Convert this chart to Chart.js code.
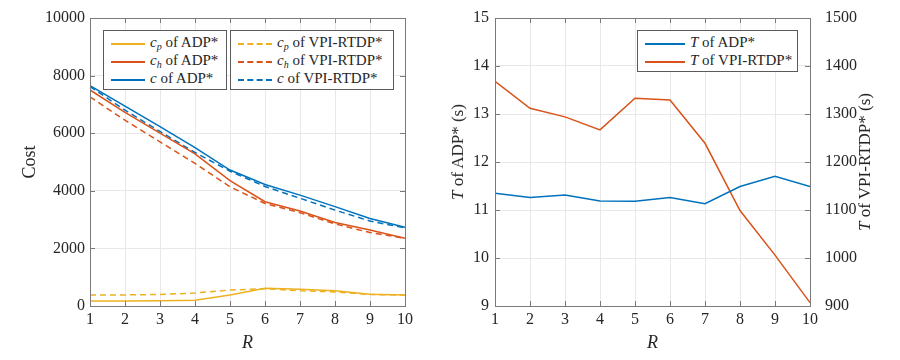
<!DOCTYPE html>
<html>
<head>
<meta charset="utf-8">
<script src="https://cdn.jsdelivr.net/npm/chart.js@4/dist/chart.umd.min.js"></script>
<style>
  body { margin: 0; background: #fff; }
  #wrap { position: relative; width: 900px; height: 360px; overflow: hidden; font-family: 'Liberation Serif', serif; color: #262626; }
  canvas { position: absolute; top: 0; }
  .legend { position: absolute; border: 1px solid #5a5a5a; background: #fff; font-size: 15px; padding: 2px 0; }
  .row { height: 18px; line-height: 18px; white-space: nowrap; }
  .sample { display: inline-block; width: 34px; height: 0; margin: 0 5px 0 7px; vertical-align: middle; }
  .vtitle { position: absolute; font-size: 17px; white-space: nowrap; transform: translate(-50%, -50%) rotate(-90deg); }
  sub { font-size: 10px; vertical-align: -3px; line-height: 0; }
</style>
</head>
<body>
<div id="wrap">
  <canvas id="costChart" width="450" height="360" style="left:0px"></canvas>
  <canvas id="timeChart" width="460" height="360" style="left:440px"></canvas>

  <div class="legend" style="left:103px; top:30px; width:122px;">
    <div class="row"><span class="sample" style="border-top:2px solid #EDB120"></span><span><i>c</i><sub><i>p</i></sub> of ADP*</span></div>
    <div class="row"><span class="sample" style="border-top:2px solid #D95319"></span><span><i>c</i><sub><i>h</i></sub> of ADP*</span></div>
    <div class="row"><span class="sample" style="border-top:2px solid #0072BD"></span><span><i>c</i> of ADP*</span></div>
  </div>
  <div class="legend" style="left:230px; top:30px; width:162px;">
    <div class="row"><span class="sample" style="border-top:2px dashed #EDB120"></span><span><i>c</i><sub><i>p</i></sub> of VPI-RTDP*</span></div>
    <div class="row"><span class="sample" style="border-top:2px dashed #D95319"></span><span><i>c</i><sub><i>h</i></sub> of VPI-RTDP*</span></div>
    <div class="row"><span class="sample" style="border-top:2px dashed #0072BD"></span><span><i>c</i> of VPI-RTDP*</span></div>
  </div>
  <div class="legend" style="left:637px; top:30px; width:159px;">
    <div class="row"><span class="sample" style="border-top:2px solid #0072BD;width:40px"></span><span><i>T</i> of ADP*</span></div>
    <div class="row"><span class="sample" style="border-top:2px solid #D95319;width:40px"></span><span><i>T</i> of VPI-RTDP*</span></div>
  </div>

  <div class="vtitle" style="left:458px; top:152px;"><i>T</i> of ADP* (s)</div>
  <div class="vtitle" style="left:865px; top:162px;"><i>T</i> of VPI-RTDP* (s)</div>
</div>

<script>
// data
const R = [1, 2, 3, 4, 5, 6, 7, 8, 9, 10];
const cpADP = [175, 175, 180, 200, 380, 620, 580, 530, 410, 380];
const chADP = [7500, 6720, 6000, 5280, 4350, 3620, 3300, 2900, 2640, 2350];
const cADP = [7650, 6940, 6230, 5500, 4720, 4220, 3850, 3450, 3040, 2730];
const cpVPI = [380, 385, 400, 450, 555, 600, 530, 490, 400, 380];
const chVPI = [7260, 6450, 5700, 4950, 4140, 3560, 3240, 2850, 2550, 2350];
const cVPI = [7620, 6800, 6060, 5330, 4680, 4150, 3740, 3330, 2950, 2710];
const timeADP = [11.35, 11.26, 11.31, 11.19, 11.18, 11.26, 11.13, 11.49, 11.70, 11.49];
const timeVPI = [1368, 1312, 1294, 1267, 1333, 1329, 1239, 1099, 1006, 907];

const BLUE = '#0072BD', RED = '#D95319', YELLOW = '#EDB120';
const AXIS = '#7a7a7a', GRID = '#e8e8e8', TEXT = '#262626';
const FONT = "'Liberation Serif', serif";

function pts(ys) {
  return R.map((r, i) => ({ x: r, y: ys[i] }));
}

function line(ys, color, dashed, axis) {
  return {
    data: pts(ys),
    borderColor: color,
    borderWidth: 1.5,
    borderDash: dashed ? [6, 4] : [],
    pointRadius: 0,
    tension: 0,
    fill: false,
    yAxisID: axis || 'y'
  };
}

const plain = v => String(v);

// box + inward ticks, matlab style
const boxPlugin = {
  id: 'box',
  afterDraw(chart) {
    const ctx = chart.ctx;
    const a = chart.chartArea;
    const len = 5;
    ctx.save();
    ctx.strokeStyle = AXIS;
    ctx.lineWidth = 1;
    ctx.beginPath();
    chart.scales.x.ticks.forEach(t => {
      const px = Math.round(chart.scales.x.getPixelForValue(t.value)) + 0.5;
      ctx.moveTo(px, a.bottom); ctx.lineTo(px, a.bottom - len);
      ctx.moveTo(px, a.top); ctx.lineTo(px, a.top + len);
    });
    const hasY2 = !!chart.scales.y2;
    chart.scales.y.ticks.forEach(t => {
      const py = Math.round(chart.scales.y.getPixelForValue(t.value)) + 0.5;
      ctx.moveTo(a.left, py); ctx.lineTo(a.left + len, py);
      if (!hasY2) { ctx.moveTo(a.right, py); ctx.lineTo(a.right - len, py); }
    });
    if (hasY2) {
      chart.scales.y2.ticks.forEach(t => {
        const py = Math.round(chart.scales.y2.getPixelForValue(t.value)) + 0.5;
        ctx.moveTo(a.right, py); ctx.lineTo(a.right - len, py);
      });
    }
    ctx.stroke();
    ctx.strokeRect(Math.round(a.left) + 0.5, Math.round(a.top) + 0.5,
                   Math.round(a.right - a.left), Math.round(a.bottom - a.top));
    ctx.restore();
  }
};

function xAxis() {
  return {
    type: 'linear', min: 1, max: 10,
    ticks: { stepSize: 1, color: TEXT, font: { family: FONT, size: 16 }, padding: 4, maxRotation: 0, callback: plain },
    grid: { color: GRID, tickLength: 0 },
    border: { display: false },
    title: { display: true, text: 'R', color: TEXT, font: { family: FONT, size: 18, style: 'italic' }, padding: { top: 0, bottom: 6 } },
    afterFit: s => { s.height = 54; }
  };
}

Chart.defaults.animation = false;

new Chart('costChart', {
  type: 'line',
  data: {
    datasets: [
      line(cpADP, YELLOW, false),
      line(chADP, RED, false),
      line(cADP, BLUE, false),
      line(cpVPI, YELLOW, true),
      line(chVPI, RED, true),
      line(cVPI, BLUE, true)
    ]
  },
  options: {
    responsive: false,
    layout: { padding: { top: 18, right: 45, left: 0, bottom: 0 } },
    plugins: { legend: { display: false }, tooltip: { enabled: false } },
    scales: {
      x: xAxis(),
      y: {
        min: 0, max: 10000,
        ticks: { stepSize: 2000, color: TEXT, font: { family: FONT, size: 16 }, padding: 5, callback: plain },
        grid: { color: GRID, tickLength: 0 },
        border: { display: false },
        title: { display: true, text: 'Cost', color: TEXT, font: { family: FONT, size: 18 }, padding: { top: 19, bottom: 0 } },
        afterFit: s => { s.width = 90; }
      }
    }
  },
  plugins: [boxPlugin]
});

new Chart('timeChart', {
  type: 'line',
  data: {
    datasets: [
      line(timeADP, BLUE, false, 'y'),
      line(timeVPI, RED, false, 'y2')
    ]
  },
  options: {
    responsive: false,
    layout: { padding: { top: 18, right: 0, left: 0, bottom: 0 } },
    plugins: { legend: { display: false }, tooltip: { enabled: false } },
    scales: {
      x: xAxis(),
      y: {
        position: 'left',
        min: 9, max: 15,
        ticks: { stepSize: 1, color: TEXT, font: { family: FONT, size: 16 }, padding: 6, callback: plain },
        grid: { color: GRID, tickLength: 0 },
        border: { display: false },
        afterFit: s => { s.width = 55; }
      },
      y2: {
        position: 'right',
        min: 900, max: 1500,
        ticks: { stepSize: 100, color: TEXT, font: { family: FONT, size: 16 }, padding: 7, callback: plain },
        grid: { display: false },
        border: { display: false },
        afterFit: s => { s.width = 90; }
      }
    }
  },
  plugins: [boxPlugin]
});
</script>
</body>
</html>
